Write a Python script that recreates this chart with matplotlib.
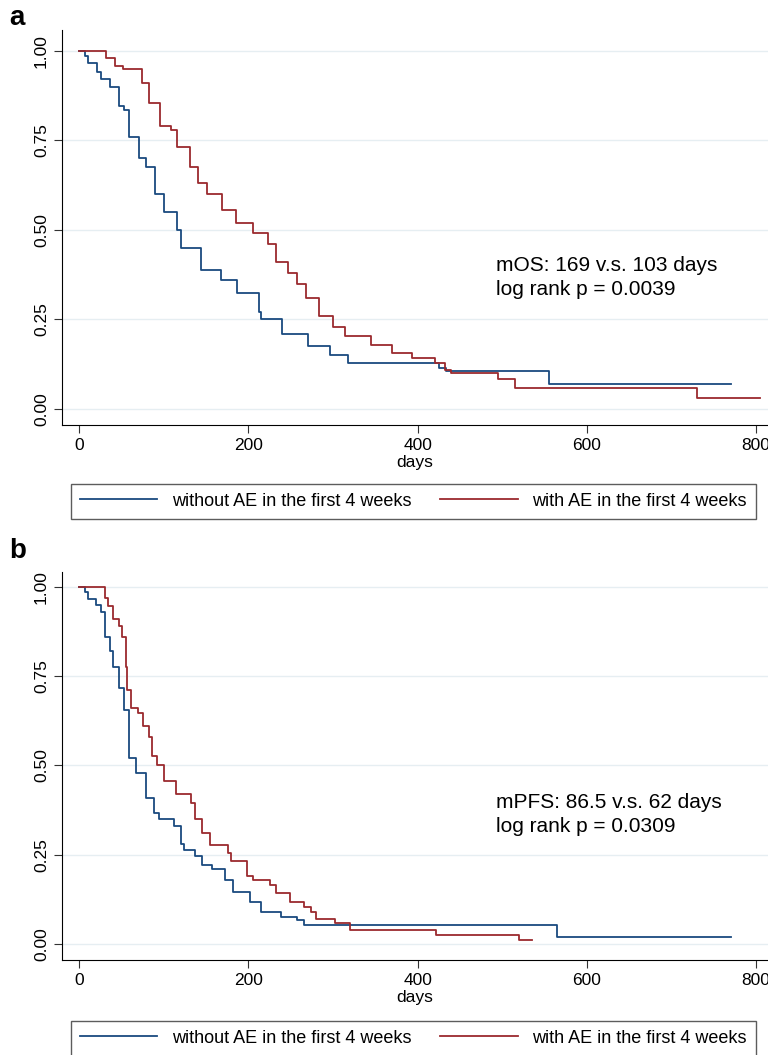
import matplotlib
matplotlib.use('Agg')
import matplotlib.pyplot as plt

plt.rcParams['font.family'] = ['Liberation Sans', 'DejaVu Sans']

# Overall survival, (day, survival) steps
os_no_t = [0, 7, 10, 21, 26, 37, 47, 53, 59, 71, 79, 90, 100, 116, 120, 144, 168, 186, 212, 215, 240, 270, 296, 318, 425, 433, 555, 770]
os_no_s = [1.0, 0.985, 0.967, 0.94, 0.92, 0.90, 0.845, 0.835, 0.76, 0.70, 0.676, 0.60, 0.55, 0.50, 0.45, 0.388, 0.36, 0.325, 0.27, 0.25, 0.21, 0.175, 0.15, 0.128, 0.115, 0.105, 0.07, 0.07]
os_ae_t = [0, 26, 32, 42, 52, 74, 82, 96, 108, 116, 131, 141, 151, 169, 185, 205, 223, 233, 247, 258, 268, 283, 300, 314, 345, 370, 393, 420, 432, 440, 495, 515, 730, 805]
os_ae_s = [1.0, 1.0, 0.98, 0.958, 0.95, 0.91, 0.855, 0.79, 0.78, 0.73, 0.676, 0.63, 0.60, 0.556, 0.52, 0.49, 0.46, 0.41, 0.38, 0.35, 0.31, 0.26, 0.23, 0.205, 0.18, 0.157, 0.142, 0.128, 0.11, 0.10, 0.085, 0.06, 0.03, 0.03]

# Progression-free survival
pfs_no_t = [0, 7, 10, 20, 26, 30, 36, 40, 47, 53, 59, 67, 79, 88, 94, 112, 120, 124, 137, 145, 157, 172, 182, 202, 215, 239, 258, 266, 565, 770]
pfs_no_s = [1.0, 0.985, 0.966, 0.95, 0.93, 0.86, 0.82, 0.776, 0.717, 0.655, 0.52, 0.48, 0.41, 0.367, 0.35, 0.33, 0.28, 0.264, 0.245, 0.22, 0.21, 0.18, 0.146, 0.118, 0.09, 0.076, 0.067, 0.053, 0.02, 0.02]
pfs_ae_t = [0, 26, 30, 34, 40, 47, 51, 55, 57, 61, 69, 76, 82, 86, 92, 100, 114, 132, 137, 145, 155, 176, 180, 198, 205, 225, 233, 249, 266, 274, 280, 302, 320, 422, 520, 535]
pfs_ae_s = [1.0, 1.0, 0.97, 0.945, 0.91, 0.89, 0.86, 0.776, 0.71, 0.66, 0.646, 0.61, 0.58, 0.525, 0.50, 0.455, 0.42, 0.395, 0.35, 0.31, 0.277, 0.255, 0.233, 0.19, 0.18, 0.165, 0.143, 0.118, 0.104, 0.09, 0.07, 0.059, 0.04, 0.025, 0.012, 0.012]

labels = ['without AE in the first 4 weeks', 'with AE in the first 4 weeks']
blue = '#1a4a7f'
red = '#9b2a2e'

fig = plt.figure(figsize=(7.68, 10.55), dpi=100)


def panel(rect, t1, s1, t2, s2, note, ymax, legend_y, letter, letter_y):
    ax = fig.add_axes(rect)
    l1, = ax.step(t1, s1, where='post', color=blue, lw=1.3)
    l2, = ax.step(t2, s2, where='post', color=red, lw=1.3)
    ax.set_xlim(-20, 814)
    ax.set_ylim(-0.045, ymax)
    ax.set_xticks([0, 200, 400, 600, 800])
    ax.set_yticks([0, 0.25, 0.5, 0.75, 1.0])
    ax.set_yticklabels(['0.00', '0.25', '0.50', '0.75', '1.00'], rotation=90, va='center')
    ax.tick_params(labelsize=12.5, length=6, color='#333333')
    ax.grid(axis='y', color='#e6eef2', lw=1)
    ax.set_axisbelow(True)
    for s in ['top', 'right']:
        ax.spines[s].set_visible(False)
    ax.set_xlabel('days', fontsize=12.5, labelpad=1)
    ax.text(0.615, 0.33, note, transform=ax.transAxes, fontsize=15, linespacing=1.3)
    fig.legend([l1, l2], labels, loc='center', bbox_to_anchor=(0.538, legend_y), ncol=2,
               fancybox=False, edgecolor='#333333', fontsize=13, handlelength=4.3,
               columnspacing=1.6, borderpad=0.5)
    fig.text(0.012, letter_y, letter, fontsize=20, fontweight='bold', va='center')


panel([0.081, 0.597, 0.919, 0.375], os_no_t, os_no_s, os_ae_t, os_ae_s,
      'mOS: 169 v.s. 103 days\nlog rank p = 0.0039', 1.059, 0.525, 'a', 0.983)
panel([0.081, 0.090, 0.919, 0.368], pfs_no_t, pfs_no_s, pfs_ae_t, pfs_ae_s,
      'mPFS: 86.5 v.s. 62 days\nlog rank p = 0.0309', 1.042, 0.016, 'b', 0.478)

fig.savefig('out.png', dpi=100)
